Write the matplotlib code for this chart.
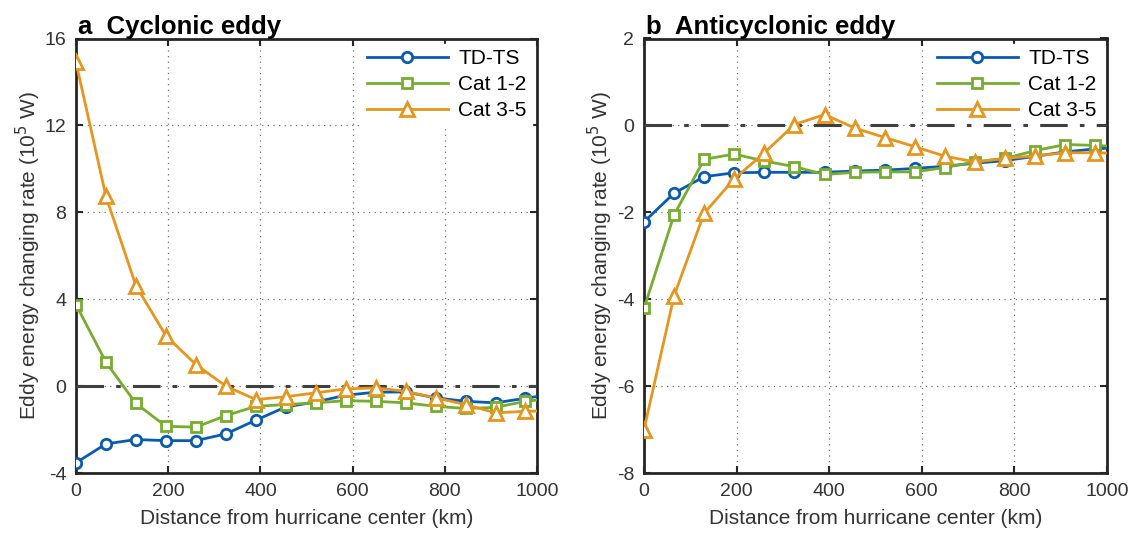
import matplotlib
matplotlib.use("Agg")
import matplotlib.pyplot as plt
import numpy as np

plt.rcParams['font.family'] = ['Liberation Sans', 'DejaVu Sans']
plt.rcParams['axes.unicode_minus'] = False

distance = [0, 65, 130, 195, 260, 325, 390, 455, 520, 585, 650, 715, 780, 845, 910, 975, 1040]

cyc_tdts = [-3.53, -2.66, -2.46, -2.51, -2.51, -2.20, -1.57, -0.96, -0.73, -0.42, -0.28, -0.27, -0.54, -0.70, -0.77, -0.56, -0.35]
cyc_cat12 = [3.75, 1.10, -0.80, -1.85, -1.89, -1.36, -0.93, -0.85, -0.77, -0.67, -0.70, -0.77, -0.93, -1.03, -0.98, -0.70, -0.55]
cyc_cat35 = [14.9, 8.73, 4.62, 2.32, 0.99, 0.0, -0.62, -0.49, -0.31, -0.13, -0.08, -0.24, -0.54, -0.85, -1.23, -1.16, -1.13]

anti_tdts = [-2.22, -1.56, -1.18, -1.09, -1.08, -1.08, -1.08, -1.05, -1.03, -0.99, -0.94, -0.87, -0.81, -0.71, -0.61, -0.54, -0.50]
anti_cat12 = [-4.21, -2.06, -0.78, -0.66, -0.82, -0.95, -1.13, -1.08, -1.07, -1.07, -0.97, -0.84, -0.76, -0.58, -0.44, -0.46, -0.50]
anti_cat35 = [-7.0, -3.92, -2.02, -1.23, -0.63, 0.02, 0.25, -0.06, -0.28, -0.49, -0.71, -0.84, -0.76, -0.70, -0.63, -0.63, -0.65]

series_labels = ['TD-TS', 'Cat 1-2', 'Cat 3-5']
panel_titles = ['a  Cyclonic eddy', 'b  Anticyclonic eddy']
xticks = [0, 200, 400, 600, 800, 1000]
yticks_a = [-4, 0, 4, 8, 12, 16]
yticks_b = [-8, -6, -4, -2, 0, 2]

colors = ['#0a5bb0', '#77ac30', '#e6961e']
markers = ['o', 's', '^']
msizes = [7.5, 6.5, 10]

fig = plt.figure(figsize=(11.32, 5.35), dpi=100)
ax_a = fig.add_axes([76/1132, 1-473/535, 461/1132, (473-38.5)/535])
ax_b = fig.add_axes([644/1132, 1-473/535, 463/1132, (473-38.5)/535])

panels = [
    (ax_a, [cyc_tdts, cyc_cat12, cyc_cat35], yticks_a, panel_titles[0]),
    (ax_b, [anti_tdts, anti_cat12, anti_cat35], yticks_b, panel_titles[1]),
]

for ax, data, yt, title in panels:
    ax.axhline(0, color='#404040', lw=2.2, ls=(0, (9, 4, 1.5, 4)), zorder=6)
    for vals, c, m, ms, lab in zip(data, colors, markers, msizes, series_labels):
        ax.plot(distance, vals, color=c, lw=2.0, marker=m, ms=ms,
                mfc='white', mec=c, mew=2.0, label=lab, zorder=7)
    ax.set_xlim(0, 1000)
    ax.set_ylim(yt[0], yt[-1])
    ax.set_xticks(xticks)
    ax.set_yticks(yt)
    ax.grid(True, ls=(0, (1, 3.5)), color='#707070', lw=0.9)
    ax.tick_params(direction='in', top=True, right=True, length=5, width=1.5,
                   labelsize=14, colors='#262626', labelcolor='#333333', pad=7)
    for s in ax.spines.values():
        s.set_linewidth(2.0)
        s.set_color('#262626')
    ax.set_xlabel('Distance from hurricane center (km)', fontsize=15, color='#333333', labelpad=7)
    ax.set_ylabel('Eddy energy changing rate (10$^5$ W)', fontsize=15, color='#333333', labelpad=1)
    ax.set_title(title, loc='left', fontsize=18.5, fontweight='bold', pad=3, x=0.005)
    leg = ax.legend(loc='upper right', fontsize=15, frameon=True, handlelength=3.9,
                    borderaxespad=0.25, borderpad=0.25, labelspacing=0.35, handletextpad=0.5,
                    fancybox=False, edgecolor='white', framealpha=1)
    leg.set_zorder(5)

fig.savefig('out.png', dpi=100)
